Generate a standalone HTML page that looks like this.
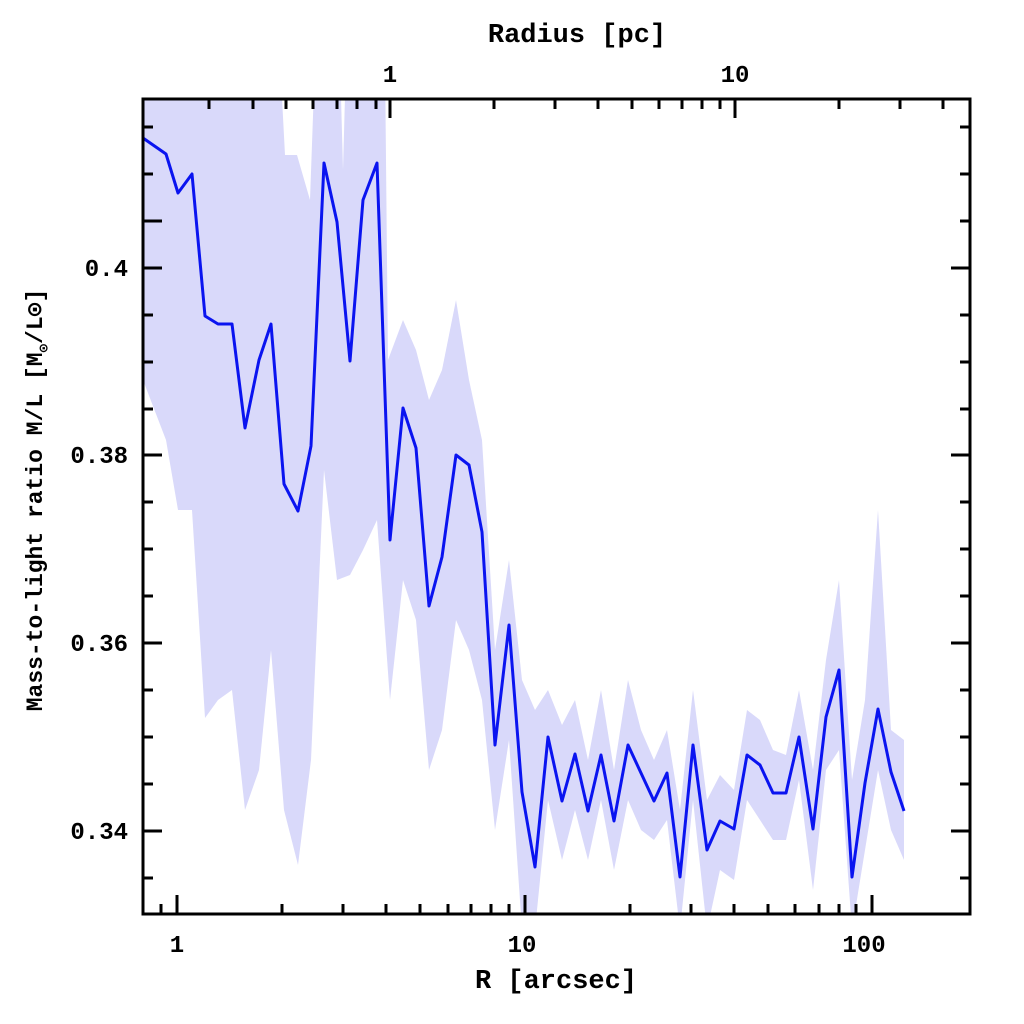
<!DOCTYPE html>
<html><head><meta charset="utf-8"><style>
html,body{margin:0;padding:0;background:#fff;}
svg{display:block;}
text{font-family:"Liberation Mono","DejaVu Sans Mono",monospace;font-weight:bold;fill:#000;}
</style></head><body>
<svg width="1024" height="1024" viewBox="0 0 1024 1024" xmlns="http://www.w3.org/2000/svg">
<defs><clipPath id="c"><rect x="143" y="99" width="827" height="815"/></clipPath></defs>
<g clip-path="url(#c)">
<polygon fill="#d9d9fa" points="143,60 280,60 285,155 297,155 310,200 315,60 340,60 343,170 346,60 385,60 388,360 403,320 416,350 429,400 442,370 456,300 469,380 482,440 495,650 509,560 522,680 535,710 548,690 562,725 575,700 588,760 601,690 614,770 628,680 641,730 654,760 667,730 680,810 693,690 707,800 720,775 734,790 747,710 760,720 773,750 786,755 799,690 813,770 826,660 839,580 852,780 865,700 878,510 891,730 904,740 904,860 891,830 878,770 865,850 852,930 839,750 826,770 813,890 799,780 786,840 773,840 760,820 747,800 734,880 720,870 707,930 693,800 680,930 667,820 654,840 641,830 628,800 614,870 601,800 588,860 575,810 562,860 548,800 535,930 522,930 509,740 495,830 482,700 469,650 456,620 442,730 429,770 416,620 403,580 390,700 377,520 363,550 350,575 337,580 324,470 311,760 298,865 284,810 271,650 259,770 245,810 232,690 218,700 205,718 192,510 178,510 166,440 143,380"/>
<polyline fill="none" stroke="#0a14f0" stroke-width="3" stroke-linejoin="round" points="143,138 166,154 178,193 192,174 205,316 218,324 232,324 245,428 259,360 271,324 284,484 298,511 311,446 324,163 337,222 350,361 363,200 377,163 390,540 403,408 416,448 429,606 442,557 456,455 469,465 482,532 495,745 509,625 522,792 535,867 548,737 562,801 575,754 588,811 601,755 614,821 628,745 641,773 654,801 667,773 680,877 693,745 707,850 720,821 734,829 747,755 760,765 773,793 786,793 799,737 813,829 826,717 839,670 852,877 865,783 878,709 891,772 904,811"/>
</g>
<rect x="143" y="99" width="827" height="815" fill="none" stroke="#000" stroke-width="3"/>
<g stroke="#000" stroke-width="3">
<path d="M161,914v-10 M177,914v-19 M282,914v-10 M343,914v-10 M386,914v-10 M420,914v-10 M448,914v-10 M471,914v-10 M491,914v-10 M509,914v-10 M525,914v-19 M630,914v-10 M691,914v-10 M734,914v-10 M768,914v-10 M795,914v-10 M819,914v-10 M839,914v-10 M856,914v-10 M872,914v-19"/>
<path d="M209,99v10 M253,99v10 M286,99v10 M313,99v10 M337,99v10 M357,99v10 M376,99v10 M390,99v19 M494,99v10 M555,99v10 M598,99v10 M632,99v10 M659,99v10 M682,99v10 M702,99v10 M720,99v10 M735,99v19 M839,99v10 M900,99v10 M943,99v10"/>
<path d="M143,127h10 M143,174h10 M143,221h19 M143,268h19 M143,315h10 M143,362h10 M143,409h10 M143,455h19 M143,502h10 M143,549h10 M143,596h10 M143,643h19 M143,690h10 M143,737h10 M143,784h10 M143,831h19 M143,878h10"/>
<path d="M970,127h-10 M970,174h-10 M970,221h-10 M970,268h-19 M970,315h-10 M970,362h-10 M970,409h-10 M970,455h-19 M970,502h-10 M970,549h-10 M970,596h-10 M970,643h-19 M970,690h-10 M970,737h-10 M970,784h-10 M970,831h-19 M970,878h-10"/>
</g>
<g font-size="24" text-anchor="middle">
<text x="177" y="952">1</text>
<text x="522" y="952">10</text>
<text x="864" y="952">100</text>
<text x="390" y="82">1</text>
<text x="735" y="82">10</text>
</g>
<g font-size="24" text-anchor="end">
<text x="128" y="276">0.4</text>
<text x="128" y="463">0.38</text>
<text x="128" y="651">0.36</text>
<text x="128" y="839">0.34</text>
</g>
<text x="556" y="988" font-size="27" text-anchor="middle">R [arcsec]</text>
<text x="577" y="42" font-size="27" text-anchor="middle">Radius [pc]</text>
<text transform="translate(42,500) rotate(-90)" font-size="23" text-anchor="middle">Mass-to-light ratio M/L [M<tspan font-size="14" dy="6">⊙</tspan><tspan dy="-6">/L⊙]</tspan></text>
</svg>
</body></html>
